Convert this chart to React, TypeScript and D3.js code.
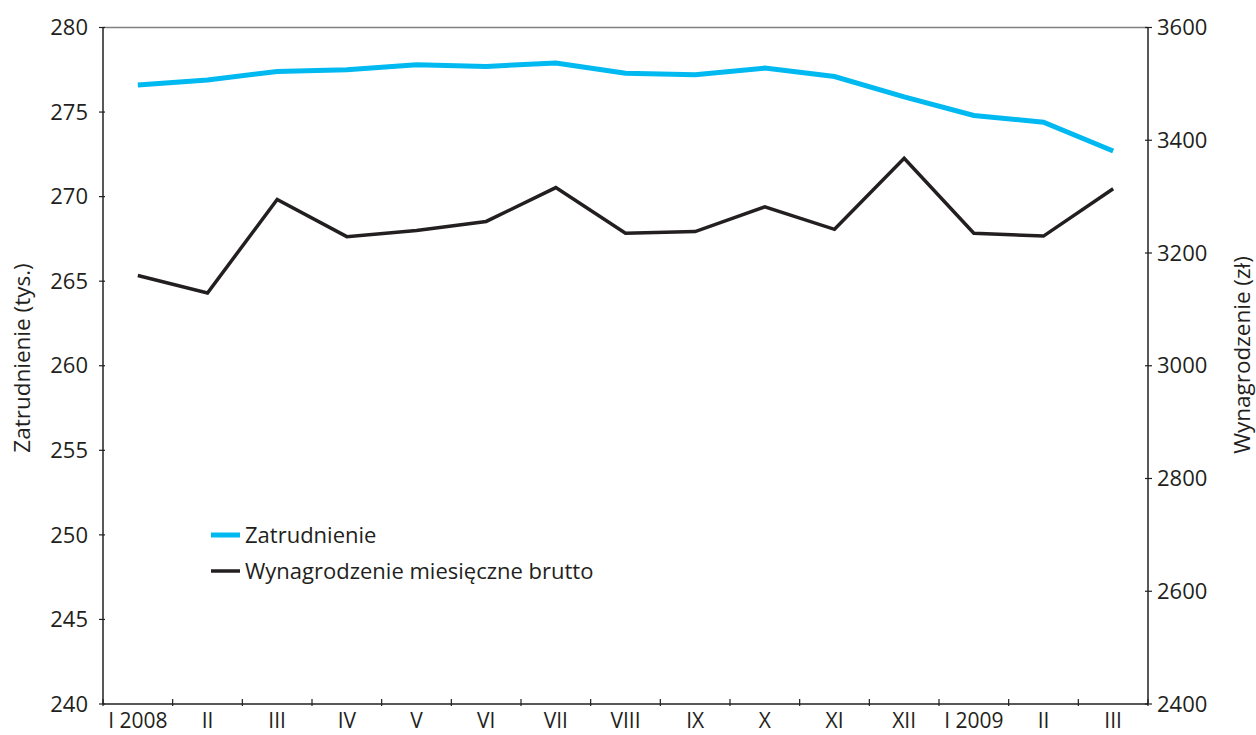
import React from "react";
import * as d3 from "d3";

const months = ["I 2008", "II", "III", "IV", "V", "VI", "VII", "VIII", "IX", "X", "XI", "XII", "I 2009", "II", "III"];
const zatrudnienie = [276.6, 276.9, 277.4, 277.5, 277.8, 277.7, 277.9, 277.3, 277.2, 277.6, 277.1, 275.9, 274.8, 274.4, 272.7];
const wynagrodzenie = [3160, 3129, 3295, 3229, 3240, 3256, 3316, 3235, 3238, 3282, 3242, 3368, 3235, 3230, 3314];
const leftTicks = [240, 245, 250, 255, 260, 265, 270, 275, 280];
const rightTicks = [2400, 2600, 2800, 3000, 3200, 3400, 3600];
const seriesNames = ["Zatrudnienie", "Wynagrodzenie miesięczne brutto"];

const W = 1256, H = 735;
const L = 103, R = 1148, T = 27.5, B = 704;
const FONT = "'Open Sans', sans-serif";
const TXT = "#231F20";
const BLUE = "#00B9F1";

export default function App() {
  const idx = months.map((_, i) => i);
  const x = d3.scaleBand<number>().domain(idx).range([L, R]);
  const yL = d3.scaleLinear().domain([240, 280]).range([B, T]);
  const yR = d3.scaleLinear().domain([2400, 3600]).range([B, T]);
  const cx = (i: number) => (x(i) as number) + x.bandwidth() / 2;
  const lineL = d3.line<number>().x((_, i) => cx(i)).y((d) => yL(d));
  const lineR = d3.line<number>().x((_, i) => cx(i)).y((d) => yR(d));
  const boundaries = idx.map((i) => x(i) as number).concat([R]);

  return (
    <svg width={W} height={H} style={{ position: "absolute", left: 0, top: 0, background: "#fff" }} fontFamily={FONT}>
      <rect x={0} y={0} width={W} height={H} fill="#fff" />
      {/* top border */}
      <line x1={L} x2={R} y1={T} y2={T} stroke="#808080" strokeWidth={1.5} />
      {/* left axis */}
      <line x1={L} x2={L} y1={T} y2={B} stroke={TXT} strokeWidth={1.5} />
      {leftTicks.map((t) => (
        <g key={"l" + t}>
          <line x1={L - 4} x2={L + 2} y1={yL(t)} y2={yL(t)} stroke={TXT} strokeWidth={1.2} />
          <text x={88} y={yL(t)} dy="0.35em" textAnchor="end" fontSize={22} fill={TXT}>{t}</text>
        </g>
      ))}
      {/* right axis */}
      <line x1={R} x2={R} y1={T} y2={B} stroke={TXT} strokeWidth={1.5} />
      {rightTicks.map((t) => (
        <g key={"r" + t}>
          <line x1={R - 3} x2={R + 4} y1={yR(t)} y2={yR(t)} stroke={TXT} strokeWidth={1.2} />
          <text x={1157} y={yR(t)} dy="0.35em" textAnchor="start" fontSize={22} fill={TXT}>{t}</text>
        </g>
      ))}
      {/* bottom axis */}
      <line x1={L} x2={R} y1={B} y2={B} stroke={TXT} strokeWidth={1.5} />
      {boundaries.map((bx, i) => (
        <line key={"b" + i} x1={bx} x2={bx} y1={B - 5} y2={B + 2} stroke={TXT} strokeWidth={1.2} />
      ))}
      {months.map((m, i) => (
        <text key={"m" + i} x={cx(i)} y={728} textAnchor="middle" fontSize={21} fill={TXT}>{m}</text>
      ))}
      {/* axis titles */}
      <text transform={`translate(30,358) rotate(-90)`} textAnchor="middle" fontSize={22.5} fill={TXT}>Zatrudnienie (tys.)</text>
      <text transform={`translate(1250,355) rotate(-90)`} textAnchor="middle" fontSize={22.5} fill={TXT}>Wynagrodzenie (zł)</text>
      {/* series */}
      <path d={lineL(zatrudnienie) || ""} fill="none" stroke={BLUE} strokeWidth={5} strokeLinejoin="miter" />
      <path d={lineR(wynagrodzenie) || ""} fill="none" stroke={TXT} strokeWidth={3.5} strokeLinejoin="miter" />
      {/* legend */}
      <line x1={211} x2={240} y1={535} y2={535} stroke={BLUE} strokeWidth={5} />
      <text x={245} y={535} dy="0.35em" fontSize={22} fill={TXT}>{seriesNames[0]}</text>
      <line x1={211} x2={240} y1={571} y2={571} stroke={TXT} strokeWidth={3.5} />
      <text x={245} y={571} dy="0.35em" fontSize={22} fill={TXT}>{seriesNames[1]}</text>
    </svg>
  );
}
